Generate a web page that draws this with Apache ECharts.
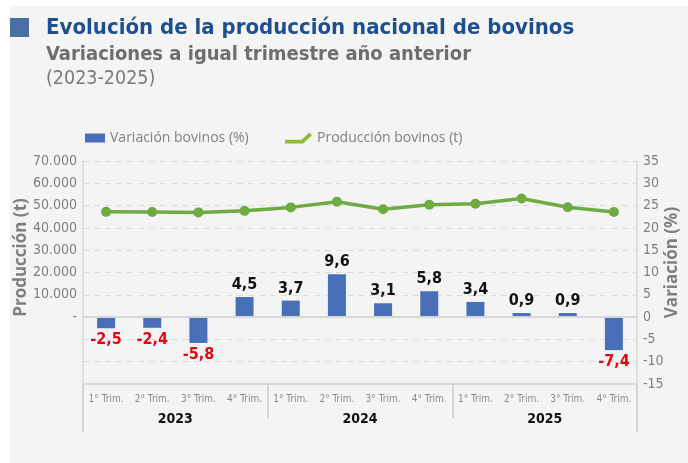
<!DOCTYPE html>
<html>
<head>
<meta charset="utf-8">
<script src="https://cdn.jsdelivr.net/npm/echarts@6/dist/echarts.min.js"></script>
<style>
  html, body { margin: 0; padding: 0; background: #ffffff; }
  #chart { position: absolute; left: 10px; top: 6px; width: 678px; height: 457px; background: #f4f4f4; }
</style>
</head>
<body>
<div id="chart"></div>
<script>
const quarters = ['1° Trim.', '2° Trim.', '3° Trim.', '4° Trim.', '1° Trim.', '2° Trim.', '3° Trim.', '4° Trim.', '1° Trim.', '2° Trim.', '3° Trim.', '4° Trim.'];
const years = ['2023', '2024', '2025'];
const variacion = [-2.5, -2.4, -5.8, 4.5, 3.7, 9.6, 3.1, 5.8, 3.4, 0.9, 0.9, -7.4];
const produccion = [47200, 47100, 46950, 47650, 49200, 51700, 48400, 50350, 50800, 53200, 49300, 47100];

const narrow = '"DejaVu Sans Condensed", "Liberation Sans Narrow", sans-serif';
const gray = '#7f7f7f';

const chart = echarts.init(document.getElementById('chart'));

const fmtThousands = v => String(v).replace(/\B(?=(\d{3})+(?!\d))/g, '.');

const option = {
    textStyle: { fontFamily: narrow },
    title: {
        left: 31,
        top: 4,
        text: '{a|Evolución de la producción nacional de bovinos}\n{b|Variaciones a igual trimestre año anterior}\n{c|(2023-2025)}',
        textStyle: {
            rich: {
                a: { fontFamily: narrow, fontWeight: 'bold', fontSize: 22, color: '#1d4f91', lineHeight: 27 },
                b: { fontFamily: narrow, fontWeight: 'bold', fontSize: 20, color: '#6e6e6e', lineHeight: 25 },
                c: { fontFamily: narrow, fontWeight: 'normal', fontSize: 19.5, color: '#7a7a7a', lineHeight: 24 }
            }
        }
    },
    graphic: [{
        type: 'rect',
        left: 0,
        top: 12,
        shape: { width: 19, height: 19 },
        style: { fill: '#4a6fa5' }
    }],
    legend: [{
        left: 70,
        top: 120,
        itemWidth: 20,
        itemHeight: 9,
        data: [{ name: 'Variación bovinos (%)', icon: 'rect' }],
        textStyle: { fontFamily: 'Open Sans', fontSize: 14, color: gray }
    }, {
        left: 270,
        top: 120,
        itemWidth: 27,
        itemHeight: 11,
        data: [{
            name: 'Producción bovinos (t)',
            icon: 'path://M1 7.5 L17 7.5 L24.5 0.5 L27 3 L18.5 11 L1 11 Z',
            itemStyle: { color: '#8fba34' }
        }],
        textStyle: { fontFamily: 'Open Sans', fontSize: 14, color: gray }
    }],
    grid: { left: 73, right: 51, top: 155, bottom: 79, outerBoundsMode: 'none', containLabel: false },
    xAxis: [{
        type: 'category',
        data: quarters,
        axisLine: { onZero: false, lineStyle: { color: '#d8d8d8', width: 2 } },
        axisTick: { show: false },
        axisLabel: { fontSize: 10, color: '#8a8a8a', margin: 10, interval: 0 }
    }, {
        type: 'category',
        data: years,
        position: 'bottom',
        axisLine: { show: false, onZero: false },
        axisTick: {
            show: true,
            length: 34,
            interval: (i) => i === 1 || i === 2,
            lineStyle: { color: '#d4d4d4', width: 2 }
        },
        axisLabel: { fontSize: 14, fontWeight: 'bold', color: '#111', margin: 28 }
    }, {
        type: 'category',
        data: [''],
        position: 'bottom',
        axisLine: { show: false, onZero: false },
        axisTick: { show: true, length: 48, lineStyle: { color: '#d4d4d4', width: 2 } },
        axisLabel: { show: false }
    }],
    yAxis: [{
        type: 'value',
        min: -30000,
        max: 70000,
        interval: 10000,
        name: 'Producción (t)',
        nameLocation: 'middle',
        nameRotate: 90,
        nameGap: 53,
        nameMoveOverlap: false,
        nameTextStyle: { fontFamily: 'Open Sans', fontWeight: 'bold', fontSize: 17, color: gray, padding: [0, 0, 0, 30] },
        axisLine: { show: true, onZero: false, lineStyle: { color: '#d8d8d8', width: 1.5 } },
        axisTick: { show: false },
        splitLine: { show: false },
        axisLabel: {
            fontSize: 14,
            color: gray,
            margin: 6,
            formatter: v => v > 0 ? fmtThousands(v) : (v === 0 ? '-' : '')
        }
    }, {
        type: 'value',
        min: -15,
        max: 35,
        interval: 5,
        name: 'Variación (%)',
        nameLocation: 'middle',
        nameRotate: 90,
        nameGap: 27,
        nameMoveOverlap: false,
        nameTextStyle: { fontFamily: 'Open Sans', fontWeight: 'bold', fontSize: 17, color: gray, padding: [0, 0, 0, 20] },
        axisLine: { show: true, onZero: false, lineStyle: { color: '#d8d8d8', width: 1.5 } },
        axisTick: { show: false },
        splitLine: { show: true, lineStyle: { color: '#dcdcdc', type: [6, 5], width: 1.2 } },
        axisLabel: { fontSize: 14, color: gray, margin: 6 }
    }],
    series: [{
        name: 'Variación bovinos (%)',
        type: 'bar',
        yAxisIndex: 1,
        barWidth: 18,
        itemStyle: { color: '#4870b8' },
        data: variacion.map(v => ({
            value: v,
            label: { position: v < 0 ? 'bottom' : 'top', color: v < 0 ? '#e30613' : '#111' }
        })),
        label: {
            show: true,
            distance: 4,
            fontSize: 16,
            fontWeight: 'bold',
            formatter: p => String(p.value).replace('.', ',')
        },
        markLine: {
            silent: true,
            symbol: 'none',
            label: { show: false },
            lineStyle: { color: '#d6d6d6', type: 'solid', width: 2 },
            data: [{ yAxis: 0 }]
        }
    }, {
        name: 'Producción bovinos (t)',
        type: 'line',
        yAxisIndex: 0,
        data: produccion,
        symbol: 'circle',
        symbolSize: 10,
        itemStyle: { color: '#6eab43' },
        lineStyle: { color: '#6eab43', width: 3.5 }
    }]
};

chart.setOption(option);

window.addEventListener('resize', () => {
    chart.resize();
});
</script>
</body>
</html>
